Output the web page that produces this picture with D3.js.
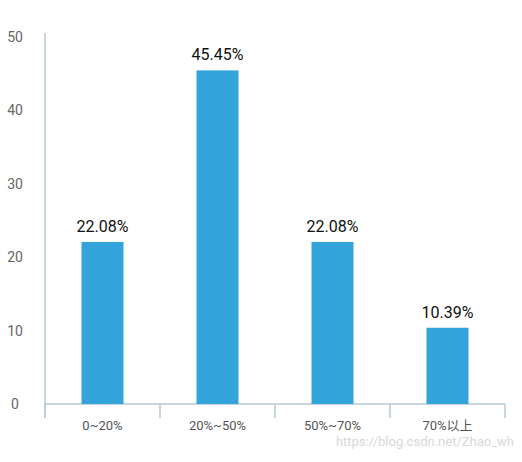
<!DOCTYPE html>
<html><head><meta charset="utf-8">
<script src="https://cdn.jsdelivr.net/npm/d3@7"></script>
<style>body{margin:0;background:#fff}</style>
</head><body>
<svg id="c" width="522" height="462"></svg>
<script>
const categories = ["0~20%","20%~50%","50%~70%","70%以上"];
const values = [22.08, 45.45, 22.08, 10.39];
const yTicks = [0,10,20,30,40,50];

const svg = d3.select("#c");
const font = "Roboto, 'Noto Sans CJK SC', sans-serif";
const x = d3.scaleBand().domain(categories).range([45,505]);
const y = d3.scaleLinear().domain([0,50]).range([404,37]);
const axisColor = "#b9c8d2";

// y axis line
svg.append("line").attr("x1",45).attr("x2",45).attr("y1",33).attr("y2",418)
  .attr("stroke",axisColor).attr("stroke-width",1.5);
// y labels
svg.selectAll(".yl").data(yTicks).enter().append("text")
  .attr("x",15).attr("y",d=>y(d)).attr("dy","0.35em").attr("text-anchor","middle")
  .attr("font-family",font).attr("font-size",14).attr("fill","#666").text(d=>d);
// x axis line
svg.append("line").attr("x1",45).attr("x2",505).attr("y1",y(0)).attr("y2",y(0))
  .attr("stroke",axisColor).attr("stroke-width",1.5);
// x ticks at band boundaries
const bounds = categories.map(c=>x(c)).concat([x.range()[1]]);
svg.selectAll(".xt").data(bounds).enter().append("line")
  .attr("x1",d=>d).attr("x2",d=>d).attr("y1",y(0)).attr("y2",418)
  .attr("stroke",axisColor).attr("stroke-width",1.5);
// bars
const bw = 42;
svg.selectAll(".bar").data(values).enter().append("rect")
  .attr("x",(d,i)=>x(categories[i])+x.bandwidth()/2-bw/2)
  .attr("width",bw).attr("y",d=>y(d)).attr("height",d=>y(0)-y(d))
  .attr("fill","#33a3dc");
// value labels
svg.selectAll(".vl").data(values).enter().append("text")
  .attr("x",(d,i)=>x(categories[i])+x.bandwidth()/2).attr("y",d=>y(d)-10)
  .attr("text-anchor","middle").attr("font-family",font).attr("font-size",16)
  .attr("fill","#111").text(d=>d.toFixed(2)+"%");
// category labels
svg.selectAll(".xl").data(categories).enter().append("text")
  .attr("x",d=>x(d)+x.bandwidth()/2).attr("y",430).attr("text-anchor","middle")
  .attr("font-family",font).attr("font-size",13).attr("fill","#555").text(d=>d);
// watermark
svg.append("text").attr("x",514).attr("y",446).attr("text-anchor","end")
  .attr("font-family",font).attr("font-size",13).attr("fill","#d8d8d8")
  .text("https://blog.csdn.net/Zhao_wh");
</script>
</body></html>
